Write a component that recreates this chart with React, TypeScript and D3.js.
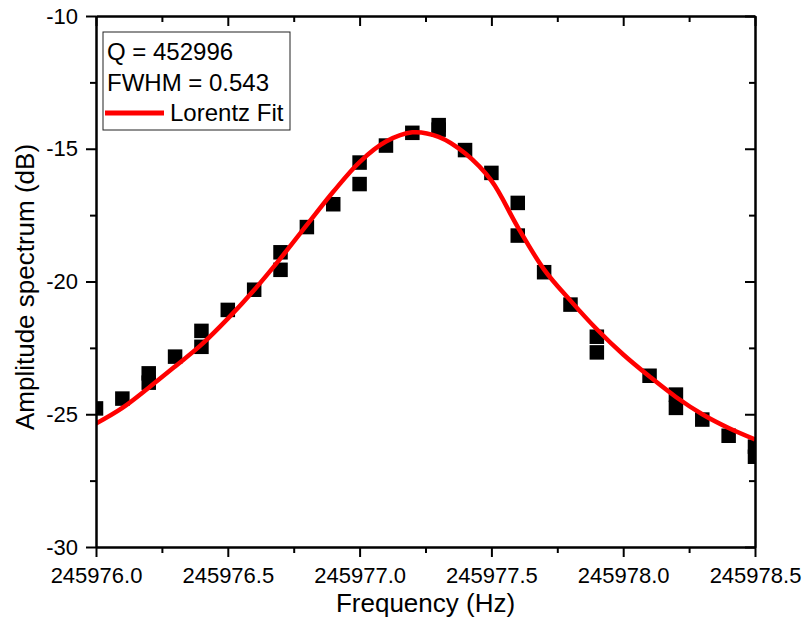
import React, { useRef, useEffect } from 'react';
import * as d3 from 'd3';

// measured points (Hz, dB)
const pointFreq = [
  245976.0, 245976.1, 245976.2, 245976.2, 245976.3, 245976.4, 245976.4, 245976.5,
  245976.6, 245976.7, 245976.7, 245976.8, 245976.9, 245977.0, 245977.0, 245977.1,
  245977.2, 245977.3, 245977.3, 245977.4, 245977.5, 245977.6, 245977.6, 245977.7,
  245977.8, 245977.9, 245977.9, 245978.1, 245978.2, 245978.2, 245978.3, 245978.4,
  245978.5, 245978.5,
];
const pointAmp = [
  -24.78, -24.41, -23.46, -23.81, -22.83, -21.86, -22.46, -21.07,
  -20.31, -18.9, -19.56, -17.95, -17.09, -15.52, -16.33, -14.88,
  -14.4, -14.11, -14.28, -15.05, -15.91, -17.04, -18.27, -19.65,
  -20.87, -22.08, -22.67, -23.55, -24.26, -24.76, -25.2, -25.81,
  -26.22, -26.6,
];

// Lorentz fit curve
const fitFreq = [
  245976.0, 245976.1, 245976.2, 245976.3, 245976.4, 245976.5, 245976.6, 245976.7,
  245976.8, 245976.9, 245977.0, 245977.1, 245977.2, 245977.3, 245977.4, 245977.5,
  245977.6, 245977.7, 245977.8, 245977.9, 245978.0, 245978.1, 245978.2, 245978.3,
  245978.4, 245978.5,
];
const fitAmp = [
  -25.35, -24.76, -24.0, -23.2, -22.38, -21.4, -20.32, -19.13,
  -17.87, -16.62, -15.5, -14.73, -14.38, -14.55, -15.17, -16.2,
  -17.95, -19.55, -20.72, -21.8, -22.75, -23.58, -24.35, -25.0,
  -25.52, -25.95,
];

const xMajor = [245976.0, 245976.5, 245977.0, 245977.5, 245978.0, 245978.5];
const xMinor = [245976.25, 245976.75, 245977.25, 245977.75, 245978.25];
const yMajor = [-30, -25, -20, -15, -10];
const yMinor = [-27.5, -22.5, -17.5, -12.5];

const legendLines = ['Q = 452996', 'FWHM = 0.543'];
const fitLabel = 'Lorentz Fit';

export default function App() {
  const svgRef = useRef<SVGSVGElement>(null);

  useEffect(() => {
    const svg = d3.select(svgRef.current);
    const width = 803;
    const height = 621;
    const margin = { top: 16, right: 48, bottom: 74, left: 96 };
    const font = "'Liberation Sans', Arial, sans-serif";

    svg.attr('width', width).attr('height', height);
    svg.selectAll('*').remove();

    const x = d3.scaleLinear()
      .domain([245976.0, 245978.5])
      .range([margin.left, width - margin.right]);

    const y = d3.scaleLinear()
      .domain([-30, -10])
      .range([height - margin.bottom, margin.top]);

    svg.append('defs').append('clipPath').attr('id', 'plot-clip')
      .append('rect')
      .attr('x', margin.left).attr('y', margin.top)
      .attr('width', width - margin.left - margin.right)
      .attr('height', height - margin.top - margin.bottom);

    // data squares
    const sq = 14.5;
    svg.append('g').attr('clip-path', 'url(#plot-clip)')
      .selectAll('rect')
      .data(pointFreq.map((f, i) => ({ f, a: pointAmp[i] })))
      .join('rect')
      .attr('x', d => x(d.f) - sq / 2)
      .attr('y', d => y(d.a) - sq / 2)
      .attr('width', sq)
      .attr('height', sq)
      .attr('fill', '#000');

    // fit curve
    const line = d3.line<number>()
      .x((d, i) => x(fitFreq[i]))
      .y(d => y(d))
      .curve(d3.curveCatmullRom.alpha(0.5));

    svg.append('path')
      .datum(fitAmp)
      .attr('clip-path', 'url(#plot-clip)')
      .attr('fill', 'none')
      .attr('stroke', '#ff0000')
      .attr('stroke-width', 4.5)
      .attr('d', line);

    // axes
    const styleAxis = (g: any, labels: boolean) => {
      g.select('.domain').attr('stroke', '#000').attr('stroke-width', 2);
      g.selectAll('.tick line').attr('stroke', '#000').attr('stroke-width', 2);
      g.selectAll('.tick text')
        .attr('fill', '#000')
        .style('font-family', font)
        .style('font-size', labels ? '22px' : '0px');
    };

    const bottom = height - margin.bottom;
    const right = width - margin.right;

    svg.append('g').attr('transform', `translate(0,${bottom})`)
      .call(d3.axisBottom(x).tickValues(xMinor).tickSize(6).tickSizeOuter(0).tickFormat(() => ''))
      .call(g => styleAxis(g, false));
    svg.append('g').attr('transform', `translate(0,${bottom})`)
      .call(d3.axisBottom(x).tickValues(xMajor).tickSize(10).tickSizeOuter(0).tickPadding(10)
        .tickFormat(d3.format('.1f')))
      .call(g => styleAxis(g, true));

    svg.append('g').attr('transform', `translate(0,${margin.top})`)
      .call(d3.axisTop(x).tickValues(xMinor).tickSize(-6).tickSizeOuter(0).tickFormat(() => ''))
      .call(g => styleAxis(g, false));
    svg.append('g').attr('transform', `translate(0,${margin.top})`)
      .call(d3.axisTop(x).tickValues(xMajor).tickSize(-10).tickSizeOuter(0).tickFormat(() => ''))
      .call(g => styleAxis(g, false));

    svg.append('g').attr('transform', `translate(${margin.left},0)`)
      .call(d3.axisLeft(y).tickValues(yMinor).tickSize(6).tickSizeOuter(0).tickFormat(() => ''))
      .call(g => styleAxis(g, false));
    svg.append('g').attr('transform', `translate(${margin.left},0)`)
      .call(d3.axisLeft(y).tickValues(yMajor).tickSize(10).tickSizeOuter(0).tickPadding(8)
        .tickFormat(d => String(d)))
      .call(g => styleAxis(g, true));

    svg.append('g').attr('transform', `translate(${right},0)`)
      .call(d3.axisRight(y).tickValues(yMinor).tickSize(-6).tickSizeOuter(0).tickFormat(() => ''))
      .call(g => styleAxis(g, false));
    svg.append('g').attr('transform', `translate(${right},0)`)
      .call(d3.axisRight(y).tickValues(yMajor).tickSize(-10).tickSizeOuter(0).tickFormat(() => ''))
      .call(g => styleAxis(g, false));

    // axis titles
    svg.append('text')
      .attr('x', (margin.left + right) / 2)
      .attr('y', 612)
      .attr('text-anchor', 'middle')
      .style('font-family', font)
      .style('font-size', '26px')
      .text('Frequency (Hz)');

    svg.append('text')
      .attr('transform', `translate(34,287) rotate(-90)`)
      .attr('text-anchor', 'middle')
      .style('font-family', font)
      .style('font-size', '26px')
      .text('Amplitude spectrum (dB)');

    // legend
    const lg = svg.append('g');
    lg.append('rect')
      .attr('x', 103).attr('y', 32)
      .attr('width', 187).attr('height', 98)
      .attr('fill', '#fff')
      .attr('stroke', '#222')
      .attr('stroke-width', 1);
    legendLines.forEach((t, i) => {
      lg.append('text')
        .attr('x', 107).attr('y', 60 + i * 30.5)
        .style('font-family', font)
        .style('font-size', '24px')
        .text(t);
    });
    lg.append('line')
      .attr('x1', 105).attr('x2', 164)
      .attr('y1', 113).attr('y2', 113)
      .attr('stroke', '#ff0000')
      .attr('stroke-width', 5);
    lg.append('text')
      .attr('x', 170).attr('y', 121)
      .style('font-family', font)
      .style('font-size', '24px')
      .text(fitLabel);
  }, []);

  return <svg ref={svgRef} style={{ position: 'absolute', left: 0, top: 0 }} />;
}
